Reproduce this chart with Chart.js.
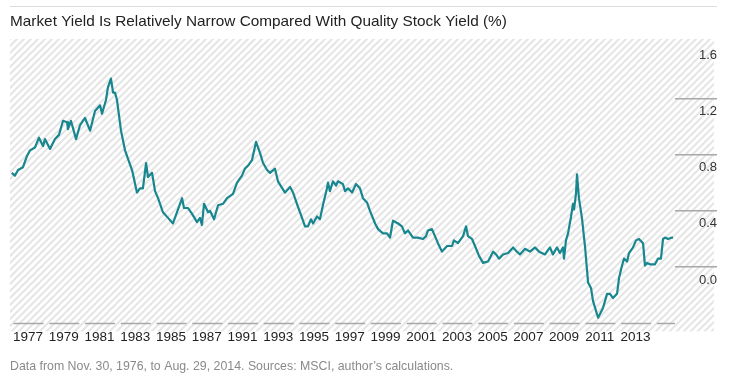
<!DOCTYPE html>
<html>
<head>
<meta charset="utf-8">
<script src="https://cdn.jsdelivr.net/npm/chart.js@4"></script>
<style>
  html, body { margin: 0; padding: 0; background: #fff; }
  canvas { display: block; }
</style>
</head>
<body>
<canvas id="yieldChart" width="731" height="389"></canvas>
<script>
// values (decimal years, yield spread in %)
const dates = [
  1977.00, 1977.18, 1977.36, 1977.64, 1977.87, 1978.04, 1978.32, 1978.55, 1978.78, 1978.89,
  1979.18, 1979.46, 1979.69, 1979.92, 1980.15, 1980.20, 1980.37, 1980.66, 1980.89, 1981.17,
  1981.46, 1981.74, 1982.03, 1982.14, 1982.37, 1982.48, 1982.65, 1982.77, 1982.88, 1982.99,
  1983.22, 1983.45, 1983.85, 1984.13, 1984.30, 1984.47, 1984.65, 1984.76, 1984.99, 1985.16,
  1985.33, 1985.61, 1985.90, 1986.18, 1986.41, 1986.70, 1986.81, 1987.04, 1987.26, 1987.55,
  1987.72, 1987.83, 1987.95, 1988.18, 1988.29, 1988.52, 1988.75, 1989.03, 1989.26, 1989.60,
  1989.83, 1990.11, 1990.28, 1990.45, 1990.68, 1990.91, 1991.14, 1991.31, 1991.54, 1991.71,
  1991.99, 1992.16, 1992.56, 1992.85, 1993.02, 1993.24, 1993.53, 1993.70, 1993.87, 1994.04,
  1994.16, 1994.38, 1994.55, 1994.72, 1994.95, 1995.01, 1995.12, 1995.29, 1995.47, 1995.58,
  1995.86, 1995.98, 1996.15, 1996.38, 1996.60, 1996.83, 1997.00, 1997.23, 1997.40, 1997.69,
  1997.86, 1998.14, 1998.37, 1998.54, 1998.71, 1999.00, 1999.22, 1999.39, 1999.57, 1999.85,
  2000.13, 2000.42, 2000.59, 2000.70, 2000.93, 2001.10, 2001.27, 2001.50, 2001.79, 2002.07,
  2002.18, 2002.41, 2002.70, 2002.87, 2002.98, 2003.21, 2003.38, 2003.61, 2003.84, 2004.12,
  2004.41, 2004.58, 2004.75, 2004.98, 2005.26, 2005.55, 2005.77, 2005.94, 2006.23, 2006.51,
  2006.80, 2007.03, 2007.37, 2007.65, 2007.82, 2008.05, 2008.22, 2008.39, 2008.45, 2008.56,
  2008.68, 2008.85, 2008.96, 2009.02, 2009.13, 2009.19, 2009.30, 2009.47, 2009.65, 2009.82,
  2009.99, 2010.10, 2010.39, 2010.67, 2010.90, 2011.07, 2011.24, 2011.47, 2011.58, 2011.75,
  2011.87, 2012.04, 2012.15, 2012.38, 2012.55, 2012.72, 2012.95, 2013.06, 2013.18, 2013.35,
  2013.63, 2013.80, 2013.97, 2014.09, 2014.20, 2014.37, 2014.60, 2014.66
];
const spread = [
  0.67, 0.65, 0.69, 0.71, 0.79, 0.83, 0.85, 0.92, 0.86, 0.91,
  0.84, 0.91, 0.94, 1.04, 1.03, 0.98, 1.04, 0.91, 1.01, 1.06,
  0.97, 1.11, 1.15, 1.09, 1.19, 1.28, 1.34, 1.24, 1.24, 1.19,
  0.97, 0.83, 0.69, 0.53, 0.56, 0.56, 0.74, 0.64, 0.67, 0.54,
  0.49, 0.39, 0.35, 0.31, 0.39, 0.49, 0.42, 0.42, 0.38, 0.32,
  0.35, 0.30, 0.45, 0.39, 0.40, 0.34, 0.44, 0.45, 0.49, 0.52,
  0.60, 0.65, 0.70, 0.72, 0.76, 0.89, 0.81, 0.74, 0.69, 0.67,
  0.70, 0.61, 0.53, 0.57, 0.53, 0.45, 0.35, 0.29, 0.29, 0.34,
  0.31, 0.36, 0.34, 0.44, 0.56, 0.60, 0.54, 0.61, 0.58, 0.61,
  0.59, 0.54, 0.56, 0.53, 0.59, 0.56, 0.49, 0.46, 0.40, 0.31,
  0.27, 0.24, 0.24, 0.21, 0.33, 0.31, 0.29, 0.24, 0.26, 0.21,
  0.21, 0.20, 0.22, 0.26, 0.27, 0.22, 0.17, 0.11, 0.15, 0.15,
  0.19, 0.17, 0.22, 0.29, 0.22, 0.20, 0.15, 0.08, 0.03, 0.04,
  0.11, 0.09, 0.06, 0.09, 0.10, 0.14, 0.11, 0.09, 0.13, 0.11,
  0.14, 0.11, 0.09, 0.14, 0.09, 0.14, 0.10, 0.14, 0.06, 0.19,
  0.24, 0.36, 0.45, 0.41, 0.52, 0.66, 0.49, 0.35, 0.14, -0.11,
  -0.15, -0.24, -0.36, -0.29, -0.19, -0.19, -0.22, -0.19, -0.08, 0.01,
  0.06, 0.04, 0.10, 0.14, 0.19, 0.20, 0.17, 0.01, 0.03, 0.02,
  0.02, 0.06, 0.06, 0.20, 0.21, 0.20, 0.21, 0.21
];
// tick labels as printed on the original (1989 is missing there too)
const xTickLabels = ["1977", "1979", "1981", "1983", "1985", "1987", "1991", "1993", "1995",
  "1997", "1999", "2001", "2003", "2005", "2007", "2009", "2011", "2013"];
const yTickValues = [0, 0.4, 0.8, 1.2, 1.6];

const sans = "'Liberation Sans', Arial, sans-serif";

// labels sit evenly spaced under the axis, one every ~2 years
function xTickAt(i) {
  return 1977.93 + i * 2.035;
}

const hatchBackground = {
  id: "hatchBackground",
  beforeDraw(chart) {
    const { ctx, chartArea } = chart;
    const tile = document.createElement("canvas");
    tile.width = 7;
    tile.height = 7;
    const t = tile.getContext("2d");
    t.strokeStyle = "#e5e5e5";
    t.lineWidth = 2;
    t.beginPath();
    t.moveTo(0, 7); t.lineTo(7, 0);
    t.moveTo(-1, 1); t.lineTo(1, -1);
    t.moveTo(6, 8); t.lineTo(8, 6);
    t.stroke();

    ctx.save();
    ctx.fillStyle = "#fff";
    ctx.fillRect(0, 0, chart.width, chart.height);
    ctx.fillStyle = ctx.createPattern(tile, "repeat");
    ctx.fillRect(chartArea.left, chartArea.top - 3, 704, chartArea.bottom - chartArea.top + 11);
    ctx.strokeStyle = "#dddddd";
    ctx.lineWidth = 1;
    ctx.beginPath();
    ctx.moveTo(10, 6.5);
    ctx.lineTo(717, 6.5);
    ctx.stroke();
    ctx.restore();
  },
};

// broken x axis line: one dash under each label
const dashedAxis = {
  id: "dashedAxis",
  beforeDatasetsDraw(chart) {
    const { ctx, chartArea, scales } = chart;
    ctx.save();
    ctx.strokeStyle = "#a8a8a8";
    ctx.lineWidth = 1.5;
    ctx.beginPath();
    for (let i = 0; i <= xTickLabels.length; i++) {
      const c = scales.x.getPixelForValue(xTickAt(i));
      ctx.moveTo(Math.max(c - 14.5, chartArea.left), chartArea.bottom);
      ctx.lineTo(Math.min(c + 15.5, chartArea.right), chartArea.bottom);
    }
    ctx.stroke();
    ctx.restore();
  },
};

new Chart(document.getElementById("yieldChart"), {
  type: "line",
  data: {
    datasets: [
      {
        data: dates.map((d, i) => ({ x: d, y: spread[i] })),
        borderColor: "#18868e",
        borderWidth: 2.2,
        borderJoinStyle: "round",
        pointRadius: 0,
        tension: 0,
      },
    ],
  },
  options: {
    responsive: false,
    animation: false,
    devicePixelRatio: 1,
    layout: { padding: { left: 10, right: 14, top: 0, bottom: 0 } },
    scales: {
      x: {
        type: "linear",
        min: 1976.9,
        max: 2014.77,
        afterBuildTicks: (axis) => {
          axis.ticks = xTickLabels.map((l, i) => ({ value: xTickAt(i) }));
        },
        grid: { display: false, drawTicks: false },
        border: { display: false },
        ticks: {
          autoSkip: false,
          maxRotation: 0,
          padding: 6,
          color: "#222",
          font: { family: sans, size: 13.5 },
          callback: (v, i) => xTickLabels[i],
        },
      },
      y: {
        position: "right",
        min: -0.4,
        max: 1.6,
        afterBuildTicks: (axis) => {
          axis.ticks = yTickValues.map((v) => ({ value: v }));
        },
        afterFit: (axis) => {
          axis.width = 42;
        },
        grid: {
          drawOnChartArea: false,
          drawTicks: true,
          tickLength: 42,
          lineWidth: 1.5,
          color: (ctx) => (ctx.tick && ctx.tick.value === 1.6 ? "rgba(0,0,0,0)" : "#a8a8a8"),
        },
        border: { display: false },
        ticks: {
          crossAlign: "far",
          padding: 0,
          labelOffset: 13,
          color: "#333",
          font: { family: sans, size: 13 },
          callback: (v) => v.toFixed(1),
        },
      },
    },
    plugins: {
      legend: { display: false },
      tooltip: { enabled: false },
      title: {
        display: true,
        text: "Market Yield Is Relatively Narrow Compared With Quality Stock Yield (%)",
        align: "start",
        color: "#222",
        font: { family: sans, size: 15.35, weight: "normal" },
        padding: { top: 13, bottom: 10.6 },
      },
      subtitle: {
        display: true,
        position: "bottom",
        text: "Data from Nov. 30, 1976, to Aug. 29, 2014. Sources: MSCI, author\u2019s calculations.",
        align: "start",
        color: "#8a8a8a",
        font: { family: sans, size: 12.35 },
        padding: { top: 7.6, bottom: 15 },
      },
    },
  },
  plugins: [hatchBackground, dashedAxis],
});
</script>
</body>
</html>
